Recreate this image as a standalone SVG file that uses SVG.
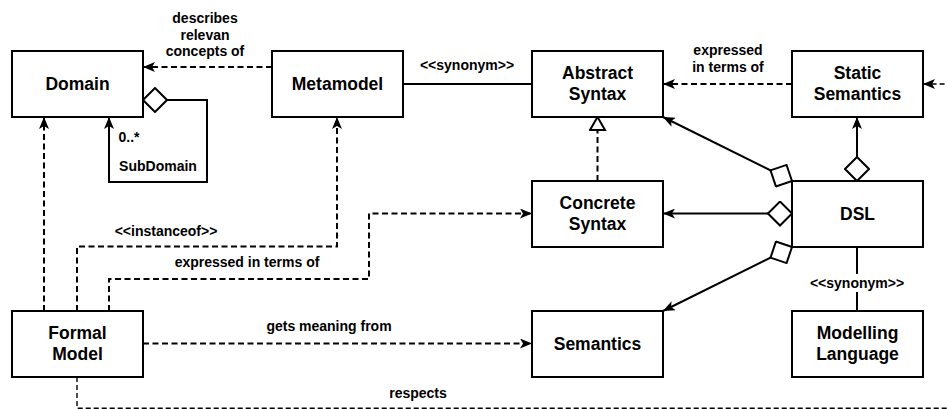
<svg xmlns="http://www.w3.org/2000/svg" width="947" height="409" viewBox="0 0 947 409">
<style>
.box{fill:#fff;stroke:#000;stroke-width:2}
.t{font-family:"Liberation Sans",Arial,Helvetica,sans-serif;font-weight:bold;font-size:17.5px;text-anchor:middle;fill:#000}
.l{font-family:"Liberation Sans",Arial,Helvetica,sans-serif;font-weight:bold;font-size:14px;text-anchor:middle;fill:#000}
.e{fill:none;stroke:#000;stroke-width:2}
.d{stroke-dasharray:6 3.5}
</style>
<defs>
<marker id="arrow" viewBox="0 0 12 10" refX="12" refY="5" markerWidth="12" markerHeight="10" markerUnits="userSpaceOnUse" orient="auto"><path d="M0,0 L12,5 L0,10 L3,5 Z" fill="#000"/></marker>
<marker id="dia" viewBox="0 0 26 26" refX="1" refY="13" markerWidth="26" markerHeight="26" markerUnits="userSpaceOnUse" orient="auto"><path d="M1,13 L13,1 L25,13 L13,25 Z" fill="#fff" stroke="#000" stroke-width="2"/></marker>
<marker id="tri" viewBox="0 0 16 18" refX="14" refY="9" markerWidth="16" markerHeight="18" markerUnits="userSpaceOnUse" orient="auto"><path d="M1,1.5 L14,9 L1,16.5 Z" fill="#fff" stroke="#000" stroke-width="2"/></marker>
</defs>
<g id="connectors">
<path class="e d" d="M272,67 H143" marker-end="url(#arrow)"/>
<path class="e" d="M143,100 H207 V182 H109 V117" marker-start="url(#dia)" marker-end="url(#arrow)"/>
<path class="e d" d="M44,311 V117" marker-end="url(#arrow)"/>
<path class="e d" d="M77,311 V246.5 H337 V117" marker-end="url(#arrow)"/>
<path class="e d" d="M109,311 V279 H369 V213.5 H532" marker-end="url(#arrow)"/>
<path class="e d" d="M143,343.5 H532" marker-end="url(#arrow)"/>
<path class="e" style="stroke-width:1.4;stroke-dasharray:5 3" d="M77,377 V408.3 H957 V84 H923" marker-end="url(#arrow)"/>
<path class="e" d="M403,84 H532"/>
<path class="e d" d="M597.5,181 V117" marker-end="url(#tri)"/>
<path class="e d" d="M792,84 H663" marker-end="url(#arrow)"/>
<path class="e" d="M792,181 L663,117" marker-start="url(#dia)" marker-end="url(#arrow)"/>
<path class="e" d="M792,213.5 H663" marker-start="url(#dia)" marker-end="url(#arrow)"/>
<path class="e" d="M792,247 L663,311" marker-start="url(#dia)" marker-end="url(#arrow)"/>
<path class="e" d="M857,181 V117" marker-start="url(#dia)" marker-end="url(#arrow)"/>
<path class="e" d="M857,247 V311"/>
<text class="l" x="205" y="23">describes</text>
<text class="l" x="205" y="39.5">relevan</text>
<text class="l" x="205" y="56">concepts of</text>
<text class="l" x="467" y="70">&lt;&lt;synonym&gt;&gt;</text>
<text class="l" x="728" y="54.5">expressed</text>
<text class="l" x="728" y="71.5">in terms of</text>
<text class="l" x="129" y="142">0..*</text>
<text class="l" x="158" y="171">SubDomain</text>
<text class="l" x="166" y="236">&lt;&lt;instanceof&gt;&gt;</text>
<text class="l" x="247" y="267">expressed in terms of</text>
<text class="l" x="329" y="331">gets meaning from</text>
<text class="l" x="418" y="398">respects</text>
<rect x="808" y="274" width="98" height="18" fill="#fff"/>
<text class="l" x="857" y="288">&lt;&lt;synonym&gt;&gt;</text>
</g>
<g id="domain"><rect class="box" x="12" y="51" width="131" height="66"/><text class="t" x="77.5" y="90">Domain</text></g>
<g id="metamodel"><rect class="box" x="272" y="51" width="131" height="66"/><text class="t" x="337.5" y="90">Metamodel</text></g>
<g id="abstract-syntax"><rect class="box" x="532" y="51" width="131" height="66"/><text class="t" x="597.5" y="78.5">Abstract</text><text class="t" x="597.5" y="100">Syntax</text></g>
<g id="static-semantics"><rect class="box" x="792" y="51" width="131" height="66"/><text class="t" x="857.5" y="78.5">Static</text><text class="t" x="857.5" y="100">Semantics</text></g>
<g id="concrete-syntax"><rect class="box" x="532" y="181" width="131" height="66"/><text class="t" x="597.5" y="208.5">Concrete</text><text class="t" x="597.5" y="230">Syntax</text></g>
<g id="dsl"><rect class="box" x="792" y="181" width="131" height="66"/><text class="t" x="857.5" y="220">DSL</text></g>
<g id="formal-model"><rect class="box" x="12" y="311" width="131" height="66"/><text class="t" x="77.5" y="338.5">Formal</text><text class="t" x="77.5" y="360">Model</text></g>
<g id="semantics"><rect class="box" x="532" y="311" width="131" height="66"/><text class="t" x="597.5" y="350">Semantics</text></g>
<g id="modelling-language"><rect class="box" x="792" y="311" width="131" height="66"/><text class="t" x="857.5" y="338.5">Modelling</text><text class="t" x="857.5" y="360">Language</text></g>
</svg>
